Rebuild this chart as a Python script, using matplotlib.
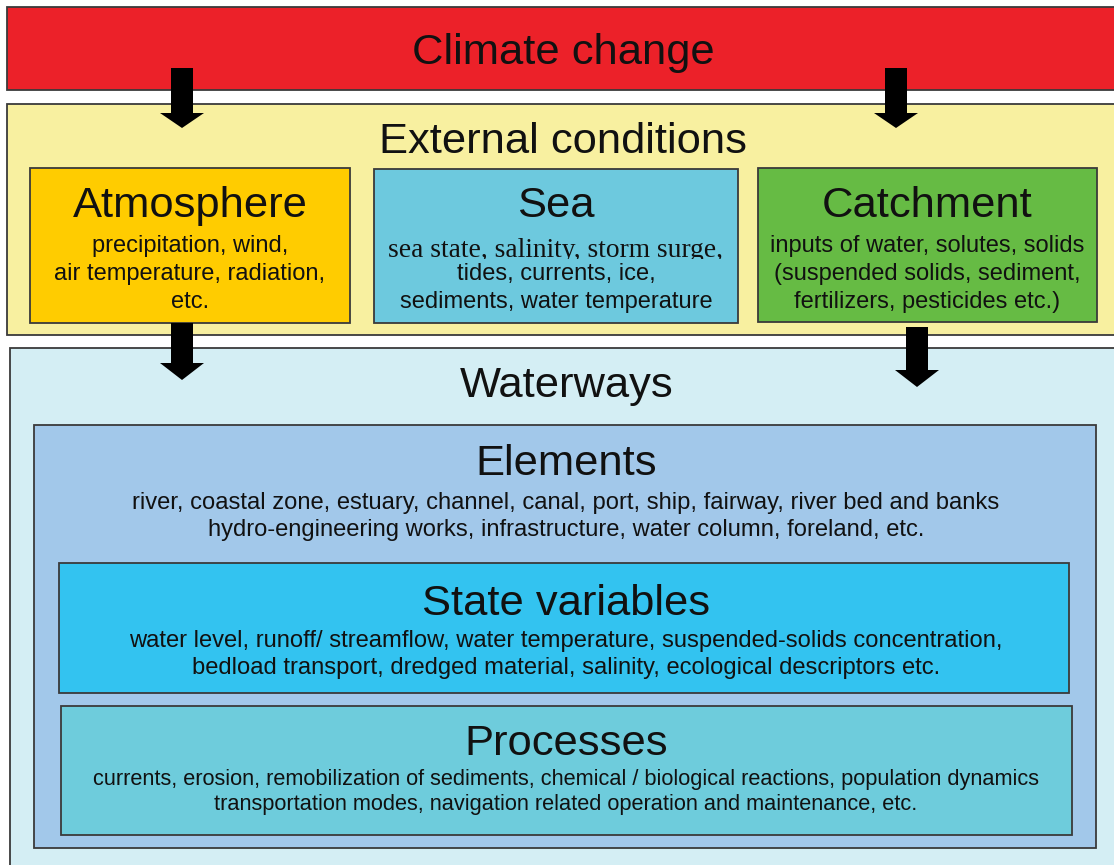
import matplotlib
matplotlib.use("Agg")
import matplotlib.pyplot as plt
from matplotlib.patches import Rectangle, FancyArrow

# ---- content ----
top_title = "Climate change"
ext_title = "External conditions"
ext_names = ["Atmosphere", "Sea", "Catchment"]
ext_details = [
    ["precipitation, wind,", "air temperature, radiation,", "etc."],
    ["sea state, salinity, storm surge,", "tides, currents, ice,", "sediments, water temperature"],
    ["inputs of water, solutes, solids", "(suspended solids, sediment,", "fertilizers, pesticides etc.)"],
]
ww_title = "Waterways"
ww_names = ["Elements", "State variables", "Processes"]
ww_details = [
    ["river, coastal zone, estuary, channel, canal, port, ship, fairway, river bed and banks",
     "hydro-engineering works, infrastructure, water column, foreland, etc."],
    ["water level, runoff/ streamflow, water temperature, suspended-solids concentration,",
     "bedload transport, dredged material, salinity, ecological descriptors etc."],
    ["currents, erosion, remobilization of sediments, chemical / biological reactions, population dynamics",
     "transportation modes, navigation related operation and maintenance, etc."],
]

W, H = 1114, 865
fig = plt.figure(figsize=(W / 100, H / 100), dpi=100)
ax = fig.add_axes([0, 0, 1, 1])
ax.set_xlim(0, W)
ax.set_ylim(H, 0)
ax.axis("off")

FONT = "Liberation Sans"
EC = "#3a3a3a"
TC = "#111111"
BIG = 31.3

def box(x0, y0, x1, y1, fc, lw=1.3, z=1):
    ax.add_patch(Rectangle((x0, y0), x1 - x0, y1 - y0, facecolor=fc, edgecolor=EC, lw=lw, zorder=z))

def arrow(xc, ytop, yhs, ytip, sw=22, hw=44, z=5):
    ax.add_patch(FancyArrow(xc, ytop, 0, ytip - ytop, width=sw, head_width=hw,
                            head_length=ytip - yhs, length_includes_head=True,
                            color="black", zorder=z, lw=0))

def txt(x, y, s, fs, z=4, fam=FONT):
    return ax.text(x, y, s, ha="center", va="baseline", fontsize=fs, family=fam, color=TC, zorder=z)

# Climate change bar
box(7, 7, W + 10, 90, "#EC2129")
txt(563, 64, top_title, BIG)

# External conditions
box(7, 104, W + 10, 335, "#F8F0A0")
txt(563, 153, ext_title, BIG)

ext_boxes = [(30, 168, 350, 323, "#FFCC00"),
             (374, 169, 738, 323, "#6DC9DE"),
             (758, 168, 1097, 322, "#66BB44")]
for (x0, y0, x1, y1, fc), name, det in zip(ext_boxes, ext_names, ext_details):
    box(x0, y0, x1, y1, fc, z=2)
    xc = (x0 + x1) / 2
    txt(xc, 217, name, BIG)
    for i, line in enumerate(det):
        serif = (name == "Sea" and i == 0)
        if serif:
            t = txt(xc, 257, line, 19.8, fam=["Liberation Serif"])
            clip = Rectangle((x0, 225), x1 - x0, 258.5 - 225, transform=ax.transData)
            t.set_clip_path(clip)
            t.set_clip_on(True)
        else:
            txt(xc, 252 + 28 * i, line, 17)

# Waterways
box(10, 348, W + 10, H + 10, "#D4EEF4")
txt(567, 397, ww_title, BIG)

box(34, 425, 1096, 848, "#A2C8EA", z=2)
ww_boxes = [None,
            (59, 563, 1069, 693, "#33C3F0"),
            (61, 706, 1072, 835, "#6ECCDC")]
title_base = [475, 615, 755]
det_base = [509, 647, 785]
det_gap = [27, 27, 25]
det_fs = [17.1, 17.1, 15.7]
for k, name in enumerate(ww_names):
    if ww_boxes[k] is not None:
        x0, y0, x1, y1, fc = ww_boxes[k]
        box(x0, y0, x1, y1, fc, z=3)
    txt(566, title_base[k], name, BIG)
    for i, line in enumerate(ww_details[k]):
        txt(566, det_base[k] + det_gap[k] * i, line, det_fs[k])

# Arrows
arrow(182, 68, 113, 128)
arrow(896, 68, 113, 128)
arrow(182, 323, 363, 380)
arrow(917, 327, 370, 387)

fig.savefig("out.png", dpi=100)
